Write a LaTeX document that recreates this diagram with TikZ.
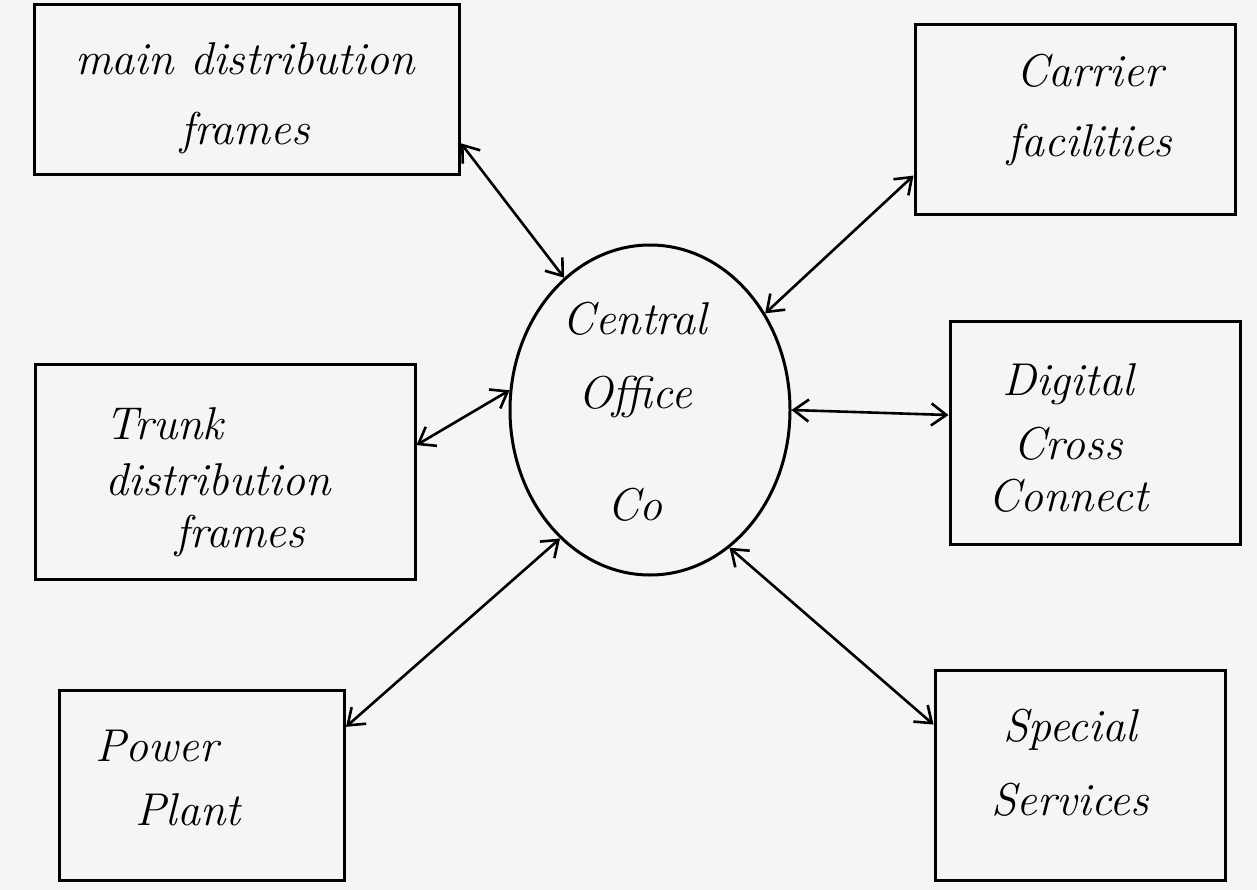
\documentclass[tikz,border=0pt]{standalone}
\usetikzlibrary{arrows.meta,shapes.geometric}
\begin{document}
\begin{tikzpicture}[x=1pt,y=-1pt,
  box/.style={draw,line width=3pt,rectangle,inner sep=0pt},
  lbl/.style={font=\fontsize{46}{50}\selectfont\itshape,align=center,inner sep=0pt},
  link/.style={line width=2.6pt,{Straight Barb[length=15pt,width=22pt,line width=2.6pt]}-{Straight Barb[length=15pt,width=22pt,line width=2.6pt]}}]
\fill[black!4] (0,0) rectangle (1257,890);
\useasboundingbox (0,0) rectangle (1257,890);
\node[box,minimum width=425pt,minimum height=170pt] (mdf) at (247,90) {};
\node[lbl] (mdft) at (245,98) {main distribution\\[20pt]frames};
\node[box,minimum width=320pt,minimum height=190pt] (cf) at (1075,120) {};
\node[lbl] (cft) at (1090,110) {Carrier\\[20pt]facilities};
\node[box,ellipse,minimum width=280pt,minimum height=330pt] (co) at (650,410) {};
\node[lbl] (cot) at (635,412) {Central\\[24pt]Office\\[62pt]Co};
\node[box,minimum width=380pt,minimum height=215pt] (td) at (225,472) {};
\node[lbl,align=left] (tdt) at (218,482) {Trunk\\[6pt]distribution\\[2pt]\hspace*{70pt}frames};
\node[box,minimum width=290pt,minimum height=223pt] (dc) at (1095,433) {};
\node[lbl] (dct) at (1068,438) {Digital\\[14pt]Cross\\[2pt]Connect};
\node[box,minimum width=285pt,minimum height=190pt] (pp) at (202,785) {};
\node[lbl,align=left] (ppt) at (168,778) {Power\\[14pt]\hspace*{40pt}Plant};
\node[box,minimum width=290pt,minimum height=210pt] (ss) at (1080,775) {};
\node[lbl] (sst) at (1070,763) {Special\\[24pt]Services};
\draw[link] (mdf.-14) -- (co.123);
\draw[link] (cf.199) -- (co.40);
\draw[link] (td.8) -- (co.172);
\draw[link] (dc.173) -- (co.0);
\draw[link] (pp.22) -- (co.235);
\draw[link] (ss.161) -- (co.300);
\end{tikzpicture}
\end{document}
